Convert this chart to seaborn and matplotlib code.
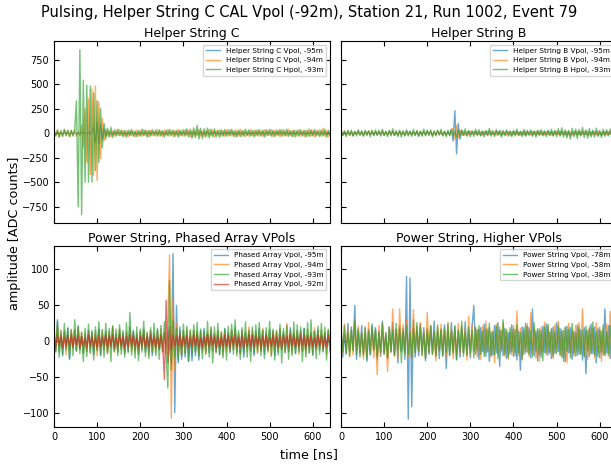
import numpy as np
import matplotlib
matplotlib.use('Agg')
import matplotlib.pyplot as plt
import seaborn as sns

# time grid (ns), one sample every 4 ns
t = np.arange(0, 641, 4)

# --- Helper String C ---
hsc_labels = ['Helper String C Vpol, -95m', 'Helper String C Vpol, -94m', 'Helper String C Hpol, -93m']
hsc_v95 = [5,-8,10,-6,4,-9,7,-5,8,-10,6,-7,5,-12,9,-8,10,-6,7,-9,
           12,-15,20,60,-90,110,-100,80,-60,40,-25,15,-10,8,-12,10,-7,9,-6,8,
           -10,7,-9,6,-8,10,-7,5,-9,8,-6,9,-10,7,-5,8,-9,6,-7,9,
           -8,10,-6,7,-11,8,-9,6,-7,10,-8,7,-9,11,-6,8,-10,9,-7,12,
           -10,9,-13,11,-8,14,-12,10,-9,13,-11,8,-10,12,-9,10,-8,11,-12,9,
           -10,8,-7,10,-9,7,-11,8,-6,9,-10,7,-8,10,-9,6,-7,9,-8,10,
           -8,7,-9,11,-6,8,-10,9,-7,8,-9,10,-6,7,-8,9,-10,6,-7,8,
           -9,10,-7,6,-8,9,-11,7,-6,10,-8,9,-7,8,-10,6,-9,7,-8,5,
           -4]
hsc_v94 = [30,-25,35,-40,20,-30,38,-28,25,-35,30,-20,35,-30,15,-25,80,-150,250,-300,
           350,-420,450,-430,480,-480,320,-260,150,-80,40,-30,25,-35,20,-28,30,-22,35,-25,
           28,-30,22,-35,30,-25,20,-38,32,-28,25,-30,35,-22,28,-40,30,-25,22,-30,
           35,-28,25,-32,30,-20,38,-30,25,-35,28,-22,40,-30,25,-28,35,-25,30,-38,
           28,-35,30,-25,40,-30,22,-35,30,-28,38,-25,30,-40,28,-22,35,-30,25,-32,
           30,-28,35,-22,25,-38,30,-25,40,-30,28,-35,22,-30,35,-25,30,-28,38,-32,
           25,-30,35,-28,30,-22,40,-35,28,-25,30,-38,35,-28,25,-30,40,-22,30,-35,
           28,-25,38,-30,22,-35,30,-28,45,-30,25,-38,30,-22,35,-28,50,-30,25,-35,
           20]
hsc_h93 = [35,-28,30,-40,25,-32,38,-22,30,-35,28,-30,40,330,-750,850,-830,540,-500,490,
           -500,480,-500,410,-380,330,-300,250,-150,100,-60,50,-40,60,-45,35,-30,40,-25,30,
           -35,28,-40,30,-25,38,-30,22,-35,28,-30,40,-25,32,-38,28,-30,35,-22,30,
           -28,35,-30,25,-40,30,-28,38,-22,30,-35,28,-40,30,-25,35,-30,45,-38,40,
           -50,55,-45,80,-60,50,-55,45,-40,52,-48,40,-35,45,-38,30,-42,35,-30,38,
           -30,35,-28,40,-32,25,-38,30,-35,28,-30,40,-25,35,-30,28,-38,30,-25,35,
           -28,30,-40,35,-25,38,-30,28,-35,30,-22,38,-30,35,-28,40,-32,25,-35,30,
           -38,28,-30,35,-25,30,-40,28,-32,35,-28,38,-30,25,-35,30,-28,40,-42,30,
           -25]

# --- Helper String B ---
hsb_labels = ['Helper String B Vpol, -95m', 'Helper String B Vpol, -94m', 'Helper String B Hpol, -93m']
hsb_v95 = [15,-20,12,-18,22,-15,10,-25,18,-12,20,-16,14,-22,17,-10,19,-14,21,-18,
           13,-20,16,-12,22,-18,10,-15,20,-14,17,-22,12,-16,19,-11,15,-20,18,-13,
           21,-15,12,-19,16,-24,14,-10,18,-17,22,-13,15,-20,11,-16,19,-14,17,-21,
           12,-18,15,-20,40,-80,230,-210,100,-60,30,-20,15,-18,22,-14,17,-12,20,-16,
           14,-21,18,-12,16,-19,23,-15,11,-17,20,-14,18,-22,13,-16,19,-11,15,-20,
           17,-13,21,-18,12,-16,19,-24,15,-12,18,-20,14,-17,22,-15,10,-19,16,-13,
           20,-16,13,-22,18,-14,16,-19,21,-12,15,-18,17,-23,12,-15,20,-17,14,-21,
           16,-13,19,-20,14,-17,22,-12,15,-18,13,-21,17,-14,20,-16,12,-19,18,-15,
           10]
hsb_v94 = [20,-15,25,-18,12,-22,17,-20,15,-12,22,-18,14,-20,18,-16,24,-13,19,-21,
           16,-14,21,-18,13,-23,17,-15,20,-12,18,-22,15,-17,23,-14,12,-19,20,-16,
           14,-20,18,-13,22,-17,15,-21,12,-18,20,-15,17,-22,13,-16,21,-14,18,-20,
           15,-18,20,-14,22,50,-60,80,-50,30,-20,16,-22,14,-18,21,-15,17,-13,20,
           -17,14,-21,18,-13,20,-16,22,-15,12,-19,17,-14,21,-18,13,-20,16,-22,15,
           -14,19,-17,12,-21,16,-18,23,-15,13,-20,17,-12,19,-16,22,-14,18,-21,15,
           -18,13,-20,16,-15,22,-13,17,-19,14,-21,18,-16,12,-20,15,-17,21,-14,19,
           -16,20,-13,18,-22,15,-17,14,-19,21,-15,12,-18,16,-20,17,-14,19,-21,15,
           -10]
hsb_h93 = [30,-25,20,-35,28,-22,32,-30,18,-28,35,-20,25,-32,30,-24,22,-38,28,-26,
           34,-20,27,-30,40,-25,22,-35,30,-28,45,-22,26,-33,29,-40,24,-30,35,-27,
           20,-32,38,-24,28,-35,22,-30,42,-26,30,-22,35,-38,25,-28,32,-20,40,-30,
           24,-36,30,-25,38,-28,22,-40,33,-27,30,-22,45,-30,28,-35,24,-32,40,-26,
           35,-28,22,-38,30,-25,48,-30,26,-33,38,-22,30,-40,28,-25,35,-30,24,-36,
           30,-28,42,-25,22,-35,38,-30,28,-22,35,-32,25,-40,30,-26,38,-28,24,-34,
           32,-25,40,-30,28,-36,45,-28,55,-40,35,-48,30,-60,50,-35,42,-55,38,-30,
           60,-45,35,-50,48,-38,30,-42,52,-35,28,-45,40,-32,36,-28,42,-30,26,-35,
           20]

# --- Power String, phased array ---
pa_labels = ['Phased Array Vpol, -95m', 'Phased Array Vpol, -94m', 'Phased Array Vpol, -93m', 'Phased Array Vpol, -92m']
pa_v95 = [8,-12,30,-15,10,-20,14,-9,18,-25,12,-8,16,-13,20,-10,7,-16,11,-14,
          15,-9,13,-18,10,-12,17,-20,9,-11,14,-16,12,-8,19,-13,10,-15,16,-9,
          12,-17,8,-14,20,-10,15,-12,9,-18,13,-11,17,-15,10,-13,14,-20,11,-9,
          16,-12,10,-15,12,-8,14,-10,-30,122,-99,50,-30,20,-25,15,-22,12,-28,10,
          -27,14,-20,12,-26,15,-10,18,-13,9,-16,20,-12,11,-15,13,-18,10,-14,17,
          -9,12,-16,14,-11,19,-13,10,-17,15,-22,12,-9,16,-14,11,-20,13,-10,18,
          -12,15,-18,10,-13,16,-9,14,-20,12,-15,17,-11,13,-16,9,-14,19,-12,10,
          -17,13,-10,15,-14,18,-12,9,-16,12,-19,14,-11,16,-13,10,-15,12,-9,14,
          -10]
pa_v94 = [10,-14,22,-12,16,-9,13,-18,11,-15,17,-10,14,-13,19,-11,12,-16,9,-14,
          13,-17,10,-12,15,-20,11,-9,16,-13,12,-18,14,-10,22,-15,11,-14,17,-12,
          9,-16,13,-11,18,-14,10,-15,12,-17,14,-10,16,-12,11,-19,15,-13,10,-16,
          14,-11,17,-15,12,-18,30,120,-107,60,-40,25,-18,14,-20,12,-16,18,-11,15,
          -13,16,-10,14,-18,12,-15,11,-17,13,-12,19,-14,10,-16,15,-11,13,-19,12,
          -15,10,-13,17,-12,14,-16,11,-18,15,-10,13,-14,20,-12,16,-11,14,-17,12,
          -14,18,-11,13,-16,12,-19,15,-10,14,-13,17,-12,11,-15,25,-14,12,-16,13,
          -11,15,-18,12,-14,10,-17,16,-13,11,-15,19,-12,14,-10,16,-13,12,-18,15,
          -12]
pa_v93 = [20,-15,28,-22,14,-18,25,-12,19,-24,16,-20,30,-14,22,-17,13,-28,18,-21,
          24,-16,15,-26,20,-13,27,-19,16,-22,25,-15,18,-28,21,-14,17,-20,23,-18,
          15,-22,26,-16,40,-19,14,-23,20,-27,17,-15,28,-21,13,-24,19,-16,25,-20,
          18,-25,22,-14,27,-20,-65,84,-40,30,-22,18,-26,15,-20,24,-17,21,-28,16,
          -19,23,-15,26,-21,17,-24,14,-18,28,-22,16,-30,20,-15,25,-19,13,-23,18,
          -26,21,-14,24,-18,30,-20,15,-25,19,-16,27,-22,14,-28,20,-17,23,-15,26,
          -20,16,-24,19,-13,28,-21,17,-26,15,-19,24,-30,18,-14,22,-25,16,-20,27,
          -17,23,-15,20,-28,18,-22,26,-16,30,-19,14,-24,21,-18,25,-13,20,-26,17,
          -15]
pa_v92 = [6,-8,9,-5,7,-9,5,-7,8,-6,9,-8,6,-5,8,-9,7,-6,5,-8,
          9,-6,7,-8,5,-9,8,-7,6,-5,9,-8,7,-6,8,-9,5,-7,9,-6,
          7,-9,6,-8,9,-5,8,-7,5,-9,7,-6,8,-8,6,-7,9,-5,7,-8,
          6,-9,8,-7,-53,57,-30,20,-12,9,-7,8,-6,9,-8,7,-5,8,-9,6,
          -7,9,-6,8,-9,5,-8,7,-6,9,-7,8,-5,6,-9,7,-8,6,-7,9,
          -6,8,-9,7,-5,9,-8,6,-7,8,-9,5,-6,9,-7,8,-8,7,-5,6,
          -9,7,-6,8,-8,5,-7,9,-6,7,-8,6,-9,8,-5,7,-7,9,-6,8,
          -8,6,-7,9,-5,8,-9,7,-6,8,-7,5,-8,9,-6,7,-9,6,-7,8,
          -5]

# --- Power String, higher vpols ---
ps_labels = ['Power String Vpol, -78m', 'Power String Vpol, -58m', 'Power String Vpol, -38m']
ps_v78 = [15,-22,10,-18,25,-14,20,-12,50,-25,18,-15,22,-20,12,-28,17,-19,24,-13,
          19,-26,14,-21,28,-17,12,-24,20,-15,26,-19,16,-30,22,-14,18,-25,90,-108,
          88,-91,30,-22,16,-20,25,-13,19,-27,14,-18,22,-16,28,-21,12,-24,17,-20,
          23,-38,15,-19,26,-14,20,-25,13,-22,18,-16,27,-20,14,-23,21,50,-18,16,
          -25,19,-14,24,-21,17,-28,13,-19,22,-16,26,-35,15,-20,18,-24,12,-17,23,
          -21,16,-26,14,-40,20,-18,25,-15,19,-23,45,-20,14,-27,17,-22,21,-16,24,
          -19,13,-24,20,-17,26,-14,18,-22,15,-28,21,-16,19,-25,14,-20,23,-18,16,
          -26,19,-45,15,-21,24,-17,20,-30,18,-23,14,-19,45,-16,22,-24,17,-20,15,
          -18]
ps_v58 = [20,-16,24,-12,18,-22,15,-19,28,-14,21,-17,13,-25,19,-20,26,-15,17,-23,
          14,-46,22,-18,25,-16,12,-42,20,-15,45,-21,17,-24,45,-13,23,-19,30,-22,
          18,-25,44,-17,21,-14,26,-20,15,-23,40,-16,22,-19,13,-27,20,-15,24,-18,
          16,-21,27,-13,19,-24,14,-20,25,-17,22,-15,18,-26,35,-19,23,-14,20,-22,
          17,-25,21,-16,28,-13,19,-22,15,-30,24,-18,20,-14,26,-21,17,-25,13,-19,
          22,-15,42,-20,18,-26,14,-17,25,-21,40,-16,19,-23,15,-28,20,-14,27,-19,
          21,-17,16,-24,23,-15,28,-20,14,-22,19,-30,25,-16,17,-21,22,-14,26,-18,
          45,-20,15,-25,21,-17,18,-23,26,-15,20,-28,16,-19,24,-21,42,-16,19,-24,
          17]
ps_v38 = [18,-14,22,-17,12,-20,16,-13,28,-19,15,-22,11,-16,20,-25,14,-18,21,-12,
          17,-21,13,-15,24,-18,10,-23,19,-14,16,-20,25,-12,18,-30,14,-17,22,-19,
          13,-22,18,-16,26,-14,20,-19,12,-24,17,-15,21,-18,14,-20,23,-13,16,-21,
          19,-15,24,-20,13,-17,22,-26,16,-14,28,-21,12,-18,20,-16,15,-23,19,-13,
          22,-18,14,-21,17,-15,25,-20,13,-19,21,-24,16,-12,30,-18,15,-22,19,-14,
          17,-20,23,-16,12,-25,19,-14,21,-18,15,-22,26,-13,18,-19,14,-27,20,-16,
          24,-15,18,-21,13,-17,22,-19,16,-28,20,-14,17,-23,25,-16,12,-20,19,-18,
          15,-22,21,-13,18,-17,27,-19,14,-21,16,-15,23,-20,13,-18,22,-16,17,-24,
          14]

panels = [
    ('Helper String C', hsc_labels, [hsc_v95, hsc_v94, hsc_h93]),
    ('Helper String B', hsb_labels, [hsb_v95, hsb_v94, hsb_h93]),
    ('Power String, Phased Array VPols', pa_labels, [pa_v95, pa_v94, pa_v93, pa_v92]),
    ('Power String, Higher VPols', ps_labels, [ps_v78, ps_v58, ps_v38]),
]

colors = sns.color_palette('tab10', 4)

fig, axes = plt.subplots(2, 2, sharex=True, sharey='row', figsize=(6.11, 4.66), dpi=100)

# axes boxes in figure fractions (right column runs off the right edge, as in the original)
positions = [
    [0.0884, 0.5215, 0.4517, 0.3906],
    [0.5581, 0.5215, 0.4517, 0.3906],
    [0.0884, 0.0843, 0.4517, 0.3884],
    [0.5581, 0.0843, 0.4517, 0.3884],
]

for ax, (title, labels, series), pos in zip(axes.flat, panels, positions):
    for i, (lab, vals) in enumerate(zip(labels, series)):
        assert len(vals) == len(t), (lab, len(vals))
        sns.lineplot(x=t, y=vals, ax=ax, color=colors[i], alpha=0.65, lw=1, label=lab)
    ax.set_title(title, fontsize=9, pad=3)
    ax.legend(loc='upper right', fontsize=5.2)
    ax.tick_params(direction='in', top=True, right=True, labelsize=7, length=3.5)
    ax.set_position(pos)

axes[0, 0].set_xlim(0, 640)
axes[0, 0].set_ylim(-915, 940)
axes[0, 0].set_yticks([-750, -500, -250, 0, 250, 500, 750])
axes[1, 0].set_ylim(-118.6, 132.8)
axes[1, 0].set_yticks([-100, -50, 0, 50, 100])
axes[1, 0].set_xticks([0, 100, 200, 300, 400, 500, 600])

fig.text(0.5065, 0.974, 'Pulsing, Helper String C CAL Vpol (-92m), Station 21, Run 1002, Event 79',
         ha='center', va='center', fontsize=10.5)
fig.text(0.5057, 0.024, 'time [ns]', ha='center', va='center', fontsize=9.2)
fig.text(0.024, 0.5, 'amplitude [ADC counts]', ha='center', va='center', rotation=90, fontsize=9.2)

plt.savefig('out.png', dpi=100)
plt.close()
